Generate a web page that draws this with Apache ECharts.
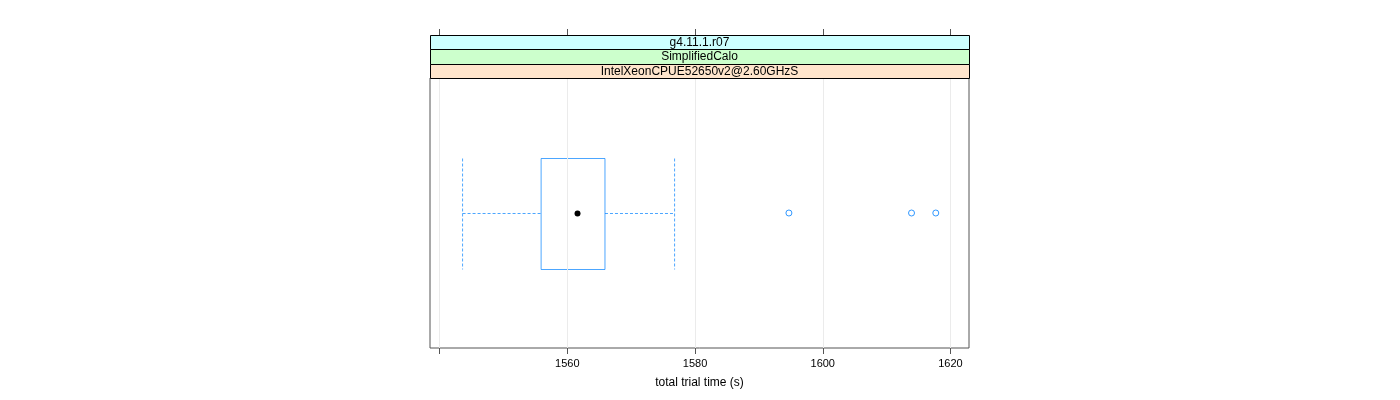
<!DOCTYPE html>
<html><head><meta charset="utf-8">
<script src="https://cdn.jsdelivr.net/npm/echarts@6/dist/echarts.min.js"></script>
<style>html,body{margin:0;padding:0;background:#fff}#c{width:1400px;height:400px}</style>
</head><body><div id="c"></div>
<script>
// ---- data ----
const categories = ['IntelXeonCPUE52650v2@2.60GHzS'];
const stripLabels = ['g4.11.1.r07', 'SimplifiedCalo', 'IntelXeonCPUE52650v2@2.60GHzS'];
// lower whisker, Q1, median, Q3, upper whisker
const boxStats = [[1543.6, 1555.9, 1561.6, 1565.9, 1576.8]];
const outliers = [1594.7, 1613.9, 1617.7];
const xTicks = [1540, 1560, 1580, 1600, 1620];
const xTickLabels = [1560, 1580, 1600, 1620];
const xMin = 1538.5, xMax = 1622.9;
const axisTitle = 'total trial time (s)';

// ---- style ----
const boxColor = '#0080ff';
const stripColors = ['#ccffff', '#ccffcc', '#ffe5cc'];
const FONT = 'Liberation Sans, Arial, sans-serif';
const PL = 430, PR = 969, PT = 78, PB = 348;
const stripTop = 35;
const stripH = (PT - stripTop) / 3;

const chart = echarts.init(document.getElementById('c'), null, {renderer: 'canvas'});

const graphics = [];
stripLabels.forEach((s, i) => {
  graphics.push({
    type: 'rect', silent: true, z: 10,
    shape: {x: PL + 0.5, y: Math.round(stripTop + i * stripH) + 0.5, width: PR - PL,
            height: Math.round(stripTop + (i + 1) * stripH) - Math.round(stripTop + i * stripH)},
    style: {fill: stripColors[i], stroke: '#000', lineWidth: 1}
  });
  graphics.push({
    type: 'text', silent: true, z: 11,
    x: (PL + PR) / 2, y: stripTop + i * stripH + stripH / 2 + 0.5,
    style: {text: s, fill: '#000', font: '12px ' + FONT, align: 'center', verticalAlign: 'middle'}
  });
});

const option = {
  animation: false,
  backgroundColor: '#fff',
  grid: {left: PL, right: 1400 - PR, top: PT, bottom: 400 - PB, show: true,
         borderColor: '#555', borderWidth: 1, backgroundColor: 'transparent'},
  graphic: graphics,
  xAxis: [{
    type: 'value', min: xMin, max: xMax, position: 'bottom',
    axisLine: {show: false},
    axisTick: {show: true, customValues: xTicks, length: 6, lineStyle: {color: '#555'}},
    axisLabel: {customValues: xTickLabels, fontSize: 11, fontFamily: FONT, color: '#000', margin: 10,
                formatter: v => String(v)},
    splitLine: {show: false},
    name: axisTitle, nameLocation: 'middle', nameGap: 29,
    nameTextStyle: {fontSize: 12, fontFamily: FONT, color: '#000'}
  }, {
    type: 'value', min: xMin, max: xMax, position: 'top', offset: PT - stripTop,
    axisLine: {show: false},
    axisTick: {show: true, customValues: xTicks, length: 6, lineStyle: {color: '#555'}},
    axisLabel: {show: false},
    splitLine: {show: false}
  }],
  yAxis: {
    type: 'category', data: categories, boundaryGap: true,
    axisLine: {show: false}, axisTick: {show: false}, axisLabel: {show: false}, splitLine: {show: false}
  },
  series: [{
    type: 'scatter', xAxisIndex: 0, z: 1,
    data: [],
    markLine: {
      silent: true, symbol: ['none', 'none'], label: {show: false},
      lineStyle: {color: '#ebebeb', type: 'solid', width: 1},
      data: xTicks.map(v => ({xAxis: v}))
    }
  }, {
    type: 'custom', xAxisIndex: 0, z: 3,
    encode: {x: [1, 2, 3, 4, 5], y: 0},
    data: boxStats.map((s, i) => [i].concat(s)),
    renderItem: function (params, api) {
      const yc = api.value(0);
      const band = api.size([0, 1])[1];
      const h = band * 0.207;
      const p = i => api.coord([api.value(i), yc]);
      const lw = p(1), q1 = p(2), med = p(3), q3 = p(4), uw = p(5);
      const y = Math.round(lw[1]) + 0.5;
      const dash = {stroke: boxColor, lineWidth: 1, lineDash: [3, 2], opacity: 0.7};
      const top = Math.round(y - h) + 0.5, bot = Math.round(y + h) + 0.5;
      return {type: 'group', children: [
        {type: 'line', shape: {x1: lw[0], y1: y, x2: q1[0], y2: y}, style: dash},
        {type: 'line', shape: {x1: q3[0], y1: y, x2: uw[0], y2: y}, style: dash},
        {type: 'line', shape: {x1: lw[0], y1: top, x2: lw[0], y2: bot}, style: dash},
        {type: 'line', shape: {x1: uw[0], y1: top, x2: uw[0], y2: bot}, style: dash},
        {type: 'rect', shape: {x: q1[0], y: top, width: q3[0] - q1[0], height: bot - top},
         style: {fill: 'none', stroke: boxColor, lineWidth: 1, opacity: 0.7}},
        {type: 'circle', shape: {cx: med[0], cy: y, r: 3}, style: {fill: '#000'}}
      ]};
    }
  }, {
    type: 'scatter', xAxisIndex: 0, z: 4,
    symbol: 'circle', symbolSize: 6,
    itemStyle: {color: '#fff', borderColor: boxColor, borderWidth: 1, opacity: 0.8},
    data: outliers.map(v => [v, categories[0]])
  }]
};
chart.setOption(option);
</script>
</body></html>
